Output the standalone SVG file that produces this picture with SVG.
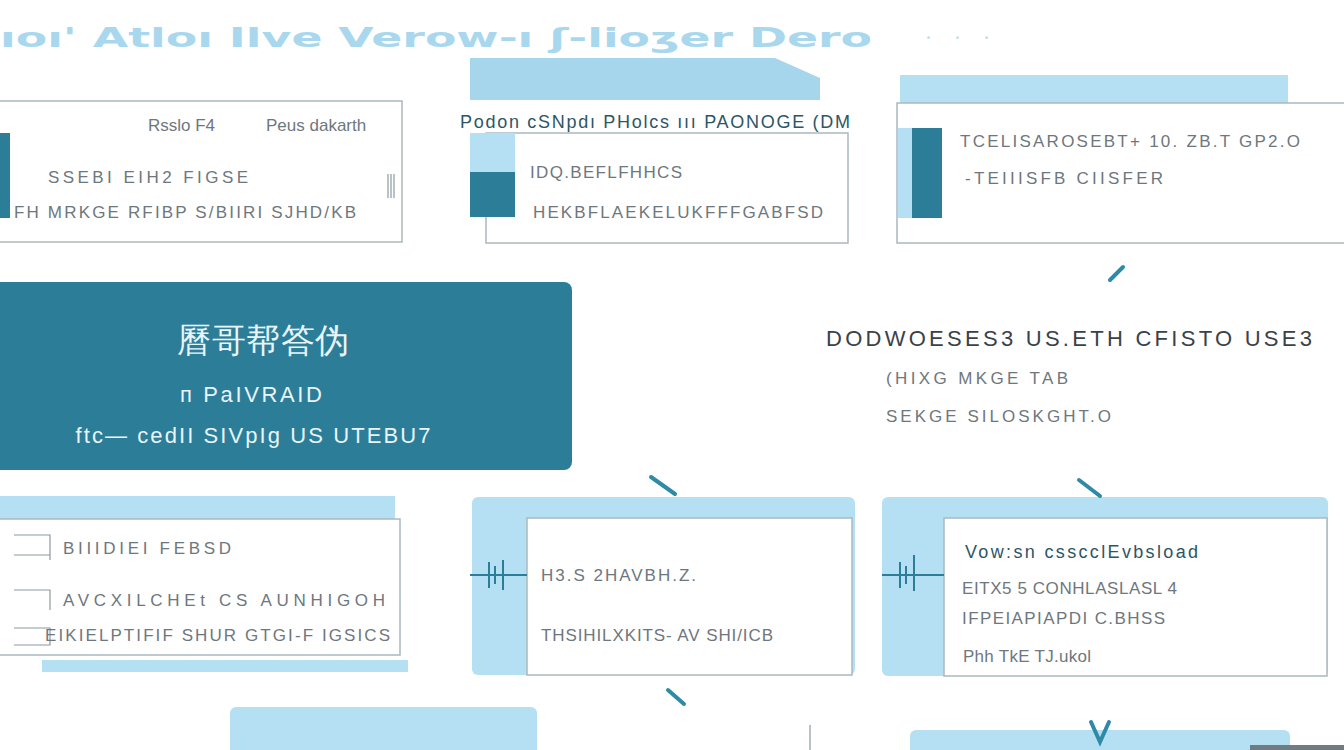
<svg xmlns="http://www.w3.org/2000/svg" width="1344" height="750" viewBox="0 0 1344 750">
<style>
.lb{fill:#b5e0f3}
.lb2{fill:#a6d6ec}
.teal{fill:#2c7e98}
.card{fill:#ffffff;stroke:#a9b9c0;stroke-width:1.5}
.t{font-family:"Liberation Sans",Arial,sans-serif;fill:#6e777d;font-size:17px}
.td{font-family:"Liberation Sans",Arial,sans-serif;fill:#2d5665;font-size:18px}
.tw{font-family:"Liberation Sans",Arial,sans-serif;fill:#e9f4f8}
.conn{stroke:#2e8aa6;stroke-width:4;stroke-linecap:round;fill:none}
.thin{stroke:#8a9aa2;stroke-width:1.2;fill:none}
</style>
<rect width="1344" height="750" fill="#ffffff"/>
<g id="title">
<text x="0" y="47" font-family="DejaVu Sans,sans-serif" font-weight="bold" font-size="27" fill="#a9d8ee" textLength="872" lengthAdjust="spacingAndGlyphs">ıoı' Atloı Ilve  Verow-ı ʃ-lioʒer Dero</text>
<text x="925" y="45" font-family="DejaVu Sans,sans-serif" font-size="22" fill="#c8dde6" textLength="65">· · ·</text>
</g>
<g id="node-top-left">
<rect class="card" x="-2" y="101" width="404" height="141"/>
<rect class="teal" x="0" y="133" width="10" height="85"/>
<text class="t" x="148" y="131">Rsslo F4</text>
<text class="t" x="266" y="131">Peus dakarth</text>
<text class="t" x="48" y="183" textLength="200">SSEBI EIH2 FIGSE</text>
<text class="t" x="14" y="218" textLength="342">FH MRKGE RFIBP S/BIIRI  SJHD/KB</text>
<path class="thin" d="M388 174v24M391 174v24M394 174v24"/>
</g>
<g id="node-top-middle">
<path class="lb2" d="M470 58H775L820 78V100H470Z"/>
<rect class="card" x="486" y="133" width="362" height="110"/>
<rect class="lb" x="470" y="133" width="45" height="40"/>
<rect class="teal" x="470" y="172" width="45" height="45"/>
<text class="td" x="460" y="128" font-size="19" textLength="390">Podon cSNpdı PHolcs ııı PAONOGE (DM</text>
<text class="t" x="530" y="178" textLength="152">IDQ.BEFLFHHCS</text>
<text class="t" x="533" y="218" textLength="290">HEKBFLAEKELUKFFFGABFSD</text>
</g>
<g id="node-top-right">
<rect class="lb" x="900" y="75" width="388" height="28"/>
<rect class="card" x="897" y="103" width="460" height="140"/>
<rect class="lb" x="898" y="128" width="20" height="90"/>
<rect class="teal" x="912" y="128" width="30" height="90"/>
<text class="t" x="960" y="147" textLength="340">TCELISAROSEBT+ 10. ZB.T GP2.O</text>
<text class="t" x="965" y="184" textLength="198">-TEIIISFB CIISFER</text>
</g>
<g id="node-center-left">
<rect class="teal" x="-10" y="282" width="582" height="188" rx="8"/>
<text class="tw" x="263" y="352" font-size="34" text-anchor="middle" font-family="Noto Sans CJK SC,sans-serif" textLength="172">曆哥帮答伪</text>
<text class="tw" x="251" y="402" font-size="22" text-anchor="middle" textLength="142">п PaIVRAID</text>
<text class="tw" x="253" y="443" font-size="22" text-anchor="middle" textLength="355">ftc—  cedII SIVpIg US UTEBU7</text>
</g>
<g id="node-center-right">
<text x="826" y="346" font-family="Liberation Sans,Arial,sans-serif" font-size="22" fill="#3a4247" textLength="486">DODWOESES3  US.ETH CFISTO USE3</text>
<text class="t" x="886" y="384" textLength="182">(HIXG MKGE TAB</text>
<text class="t" x="886" y="422" textLength="225">SEKGE SILOSKGHT.O</text>
</g>
<g id="node-bottom-left">
<rect class="lb" x="-2" y="496" width="397" height="24"/>
<rect class="card" x="-2" y="519" width="402" height="136"/>
<rect class="lb" x="42" y="660" width="366" height="12"/>
<path class="thin" d="M14 535H50V560M14 555H50M14 590H50V610M14 628H50V645H14"/>
<text class="t" x="63" y="554" textLength="168">BIIIDIEI FEBSD</text>
<text class="t" x="63" y="606" textLength="322">AVCXILCHEt CS AUNHIGOH</text>
<text class="t" x="45" y="641" textLength="345">EIKIELPTIFIF SHUR GTGI-F IGSICS</text>
</g>
<g id="node-bottom-middle">
<rect class="lb" x="472" y="497" width="383" height="178" rx="6"/>
<rect class="card" x="527" y="518" width="325" height="157"/>
<path d="M470 575H527M489 562v26M495 566v18M503 560v30" stroke="#2c7e98" stroke-width="2" fill="none"/>
<text class="t" x="541" y="581" textLength="155">H3.S 2HAVBH.Z.</text>
<text class="t" x="541" y="641" textLength="232">THSIHILXKITS- AV SHI/ICB</text>
</g>
<g id="node-bottom-right">
<rect class="lb" x="882" y="497" width="446" height="179" rx="6"/>
<rect class="card" x="944" y="518" width="383" height="158"/>
<path d="M882 575H944M900 562v26M906 566v18M914 555v36" stroke="#2c7e98" stroke-width="2" fill="none"/>
<text class="td" x="965" y="558" font-size="19" fill="#4a7f92" textLength="233">Vow:sn csscclEvbsload</text>
<text class="t" x="962" y="594" textLength="215">EITX5 5 CONHLASLASL 4</text>
<text class="t" x="962" y="624" textLength="203">IFPEIAPIAPDI C.BHSS</text>
<text class="t" x="963" y="662" font-size="15" textLength="128">Phh TkE TJ.ukol</text>
</g>
<g id="node-bottom-strips">
<rect class="lb" x="230" y="707" width="307" height="50" rx="6"/>
<rect class="lb" x="910" y="730" width="380" height="30" rx="6"/>
<rect x="1250" y="745" width="94" height="10" fill="#6f7c82"/>
</g>
<g id="connectors">
<line class="conn" x1="1110" y1="280" x2="1123" y2="267"/>
<line class="conn" x1="651" y1="477" x2="675" y2="494"/>
<line class="conn" x1="1079" y1="480" x2="1100" y2="496"/>
<line class="conn" x1="668" y1="690" x2="684" y2="704" stroke-width="3"/>
<path class="conn" d="M1091 722L1100 742L1109 722" stroke-width="6"/>
<line class="thin" x1="810" y1="725" x2="810" y2="750"/>
</g>
</svg>
